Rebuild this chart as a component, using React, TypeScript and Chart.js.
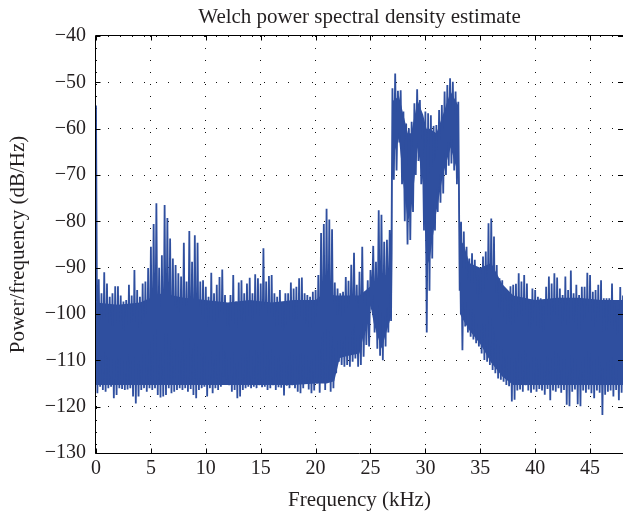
import React, { useEffect, useRef } from 'react';
import { Chart, registerables } from 'chart.js';

Chart.register(...registerables);

const TITLE = 'Welch power spectral density estimate';
const X_LABEL = 'Frequency (kHz)';
const Y_LABEL = 'Power/frequency (dB/Hz)';
const X_TICKS = [0, 5, 10, 15, 20, 25, 30, 35, 40, 45];
const Y_TICKS = [-130, -120, -110, -100, -90, -80, -70, -60, -50, -40];
const X_MIN = 0;
const X_MAX = 48;
const Y_MIN = -130;
const Y_MAX = -40;

// Spectrum in 0.25 kHz bins: the highest and the lowest
// value of the trace inside each bin (dB/Hz).
const BIN_KHZ = 0.25;
const binPeakDb = [
  -55, -92.5, -95.5, -91, -93.4, -96.3, -95.5, -94, -94, -96,
  -97.3, -97, -93.7, -96, -90.5, -94.8, -96.3, -93.4, -93, -90.1,
  -85.5, -80.6, -76.1, -90, -87.3, -76.5, -79.3, -83.7, -88, -89.4,
  -91.2, -91.9, -84.6, -93, -82.1, -88.7, -83, -84.6, -93, -92.7,
  -94.1, -96.3, -91.1, -95.5, -93.7, -92, -90.4, -95.9, -98.4, -95.9,
  -91.6, -97.3, -93.2, -92.7, -95.5, -93.4, -92.2, -95.5, -91.4, -92.3,
  -93.4, -85.8, -93, -91.8, -91.6, -95.5, -96.3, -94.8, -97.7, -95.5,
  -95.5, -93.2, -94.5, -94.1, -92.3, -92.1, -95.5, -95.9, -96.3, -95.2,
  -94.8, -91.6, -82.5, -80.6, -77.3, -79.6, -81.7, -93.2, -94.5, -95.5,
  -95.2, -92, -92.8, -89.4, -86.8, -93.7, -90.9, -85.5, -95.2, -92.7,
  -90.5, -85.3, -88.7, -77.6, -78.6, -84.4, -84, -81.9, -51.3, -48.1,
  -51.8, -51.7, -56.3, -58.9, -59.9, -58.5, -54.5, -51.5, -53.8, -59.6,
  -56.3, -56.7, -57.1, -59.4, -59.2, -56, -54.9, -52, -50.6, -49.1,
  -49.9, -52, -54.2, -80.1, -82.2, -85.5, -88, -86.9, -88.3, -91.6,
  -92, -87.6, -86.5, -80.4, -79.4, -83.3, -89.4, -92.3, -92.7, -95.5,
  -95.5, -94, -93.7, -93.5, -91.2, -93, -91.6, -93.4, -97.7, -94.5,
  -94.8, -96.3, -96.6, -98.4, -94.1, -91.9, -93.4, -91.2, -92.1, -94.5,
  -95.9, -91.9, -94.8, -90.6, -95.5, -93.7, -95.9, -94.1, -94.1, -91.1,
  -91.6, -95.2, -94.8, -93.7, -92.7, -96.6, -96.6, -96.6, -93.4, -97.7,
  -99.1, -94.2, -96,
];
const binTroughDb = [
  -117.1, -115.7, -116.4, -116.8, -116, -115.7, -118.2, -117.5, -116, -116.2,
  -116.4, -116.3, -116, -117.8, -119.3, -117.8, -116.4, -116, -116.8, -116,
  -116.4, -116, -117.5, -118, -117.8, -117.5, -116, -117.1, -116.8, -116.4,
  -116, -116.4, -116, -116.8, -116.2, -117.5, -118.2, -116.4, -116, -115.7,
  -117.8, -116, -117.1, -116, -116.4, -115.7, -113.5, -114.2, -115.4, -116.8,
  -116.4, -118.2, -117.8, -116.4, -116, -115.7, -116, -115.7, -116, -115.4,
  -115.8, -115.7, -116.4, -116, -115.4, -116.4, -115.8, -115.9, -117.6, -115.5,
  -116, -115.4, -116, -116.8, -117.1, -116, -115, -116.3, -117.1, -116.5,
  -115, -117, -114.8, -116.4, -114.3, -116.8, -116, -112.8, -110.3, -111,
  -111.4, -111, -111.4, -110.3, -109.6, -111.4, -111, -109.2, -106.7, -107,
  -99, -104, -107.5, -109, -110, -107, -104, -101.5, -71, -69,
  -63, -72, -80, -85, -84, -78, -70, -67, -72, -82,
  -104, -95, -88, -82, -78, -76, -74, -70, -68, -67.5,
  -69, -72, -95, -107.8, -102.7, -104, -104.9, -105.5, -106.3, -107,
  -108.5, -109.9, -110.3, -111, -112.1, -112.8, -113.9, -114.2, -114.6, -115.3,
  -115.6, -118.9, -118.5, -116.5, -116.3, -116.8, -115.4, -116.5, -117, -116.3,
  -116.8, -116.2, -116.5, -117.4, -116.2, -118.6, -116.5, -116.8, -116, -117,
  -116.4, -119.6, -119.9, -116.8, -116.3, -119.5, -119.9, -116.5, -117, -116.3,
  -117.1, -118.2, -116.5, -117, -121.8, -117.4, -116.8, -116.5, -117.8, -116.4,
  -118.6, -117, -116.5,
];

// The solid (densely filled) part of the trace: its upper and lower edge.
const coreFreqKhz = [
  0, 2, 4, 5, 6, 8, 10, 12, 14, 16, 18, 20, 21, 21.7, 22.2, 23, 24, 25, 25.3, 26, 26.95,
  27.05, 27.6, 28.0, 28.4, 28.7, 29.3, 29.8, 30.1, 30.4, 31.0, 31.6, 32.3, 33.0,
  33.15, 33.5, 34, 35, 36, 37, 38, 40, 42, 44, 46, 48,
];
const coreTopDb = [
  -97.5, -98, -97.5, -96.5, -95.5, -96.5, -97, -97.5, -97, -97.5, -97, -97, -95, -96, -96, -96, -96, -94, -94, -92, -91,
  -54, -53, -57, -61, -61, -54, -57, -60, -60, -61, -57, -52, -55,
  -84, -85, -89, -90, -89, -93.5, -96, -97, -96.5, -96.5, -97, -97,
];
const coreBottomDb = [
  -115.3, -115.3, -115.3, -115.3, -115.3, -115.3, -115.3, -115.3, -115.3, -115.3, -115.3, -115, -115, -114.5, -109.5, -109, -108.5, -98, -102, -107.5, -100,
  -66, -62, -72, -80, -78, -64, -72, -90, -88, -78, -70, -64, -70,
  -100, -101.5, -103.5, -106.5, -110.5, -113.5, -115.3, -115.3, -115.3, -115.3, -115.3, -115.3,
];

const BLUE = '#2f4f9f';
const TEXT = '#231f20';
const FONT = "'Liberation Serif', 'Times New Roman', serif";

const minusLabel = (v: number) => (v < 0 ? '\u2212' + Math.abs(v) : String(v));

const framePlugin = {
  id: 'matlabFrame',
  afterDraw(chart: any) {
    const { ctx, chartArea: a } = chart;
    const xs = chart.scales.x;
    const ys = chart.scales.y;
    ctx.save();
    ctx.strokeStyle = '#000';
    ctx.lineWidth = 1;
    const L = Math.round(a.left) - 0.5;
    const R = Math.round(a.right) + 0.5;
    const T = Math.round(a.top) - 0.5;
    const B = Math.round(a.bottom) + 0.5;
    ctx.beginPath();
    ctx.moveTo(L, T);
    ctx.lineTo(R, T);
    ctx.lineTo(R, B);
    ctx.lineTo(L, B);
    ctx.closePath();
    ctx.stroke();
    const len = 5;
    ctx.beginPath();
    X_TICKS.forEach((v) => {
      const px = Math.round(xs.getPixelForValue(v)) + 0.5;
      ctx.moveTo(px, B);
      ctx.lineTo(px, B - len);
      ctx.moveTo(px, T);
      ctx.lineTo(px, T + len);
    });
    Y_TICKS.forEach((v) => {
      const py = Math.round(ys.getPixelForValue(v)) + 0.5;
      ctx.moveTo(L, py);
      ctx.lineTo(L + len, py);
      ctx.moveTo(a.right, py);
      ctx.lineTo(a.right - len, py);
    });
    ctx.stroke();
    ctx.restore();
  },
};

export default function App() {
  const canvasRef = useRef<HTMLCanvasElement | null>(null);

  useEffect(() => {
    const canvas = canvasRef.current;
    if (!canvas) return;

    const trace: { x: number; y: number }[] = [];
    binPeakDb.forEach((peak, i) => {
      const f = i * BIN_KHZ;
      trace.push({ x: f, y: peak });
      trace.push({ x: f + BIN_KHZ / 2, y: binTroughDb[i] });
    });
    const coreLow = coreFreqKhz.map((f, i) => ({ x: f, y: coreBottomDb[i] }));
    const coreHigh = coreFreqKhz.map((f, i) => ({ x: f, y: coreTopDb[i] }));

    const tickFont = { family: FONT, size: 20 };
    const titleFont = { family: FONT, size: 21, weight: 'normal' as const };
    const dots = [1, 11];

    const chart = new Chart(canvas, {
      type: 'line',
      data: {
        datasets: [
          {
            data: trace,
            borderColor: BLUE,
            borderWidth: 1.8,
            pointRadius: 0,
            tension: 0,
            fill: false,
          },
          {
            data: coreLow,
            borderWidth: 0,
            borderColor: 'rgba(0,0,0,0)',
            pointRadius: 0,
            tension: 0,
            fill: false,
          },
          {
            data: coreHigh,
            borderWidth: 0,
            borderColor: 'rgba(0,0,0,0)',
            backgroundColor: BLUE,
            pointRadius: 0,
            tension: 0,
            fill: '-1',
          },
        ],
      },
      options: {
        responsive: false,
        animation: false,
        devicePixelRatio: 1,
        events: [],
        layout: { padding: { left: 0, right: 0, top: 0, bottom: 0 } },
        plugins: {
          legend: { display: false },
          tooltip: { enabled: false },
          title: {
            display: true,
            fullSize: false,
            text: TITLE,
            color: TEXT,
            font: titleFont,
            padding: { top: 4.8, bottom: 6 },
          },
        },
        scales: {
          x: {
            type: 'linear',
            min: X_MIN,
            max: X_MAX,
            afterFit: (s: any) => {
              s.height = 64;
            },
            afterBuildTicks: (s: any) => {
              s.ticks = X_TICKS.map((v) => ({ value: v }));
            },
            grid: { color: '#111', lineWidth: 1, drawTicks: false, borderDash: dots } as any,
            border: { display: false, dash: dots },
            ticks: {
              color: TEXT,
              font: tickFont,
              padding: 4,
              maxRotation: 0,
              autoSkip: false,
              callback: (v: any) => String(v),
            },
            title: {
              display: true,
              text: X_LABEL,
              color: TEXT,
              font: titleFont,
              padding: { top: 0, bottom: 4 },
            },
          },
          y: {
            type: 'linear',
            min: Y_MIN,
            max: Y_MAX,
            afterFit: (s: any) => {
              s.width = 96;
            },
            afterBuildTicks: (s: any) => {
              s.ticks = Y_TICKS.map((v) => ({ value: v }));
            },
            grid: { color: '#111', lineWidth: 1, drawTicks: false, borderDash: dots } as any,
            border: { display: false, dash: dots },
            ticks: {
              color: TEXT,
              font: tickFont,
              padding: 10,
              autoSkip: false,
              callback: (v: any) => minusLabel(Number(v)),
            },
            title: {
              display: true,
              text: Y_LABEL,
              color: TEXT,
              font: titleFont,
              padding: { top: 6, bottom: 0 },
            },
          },
        },
      },
      plugins: [framePlugin],
    } as any);

    return () => chart.destroy();
  }, []);

  return (
    <div style={{ position: 'fixed', left: 0, top: 0, width: 623, height: 517, background: '#fff' }}>
      <canvas ref={canvasRef} width={623} height={517} style={{ display: 'block', width: 623, height: 517 }} />
    </div>
  );
}
